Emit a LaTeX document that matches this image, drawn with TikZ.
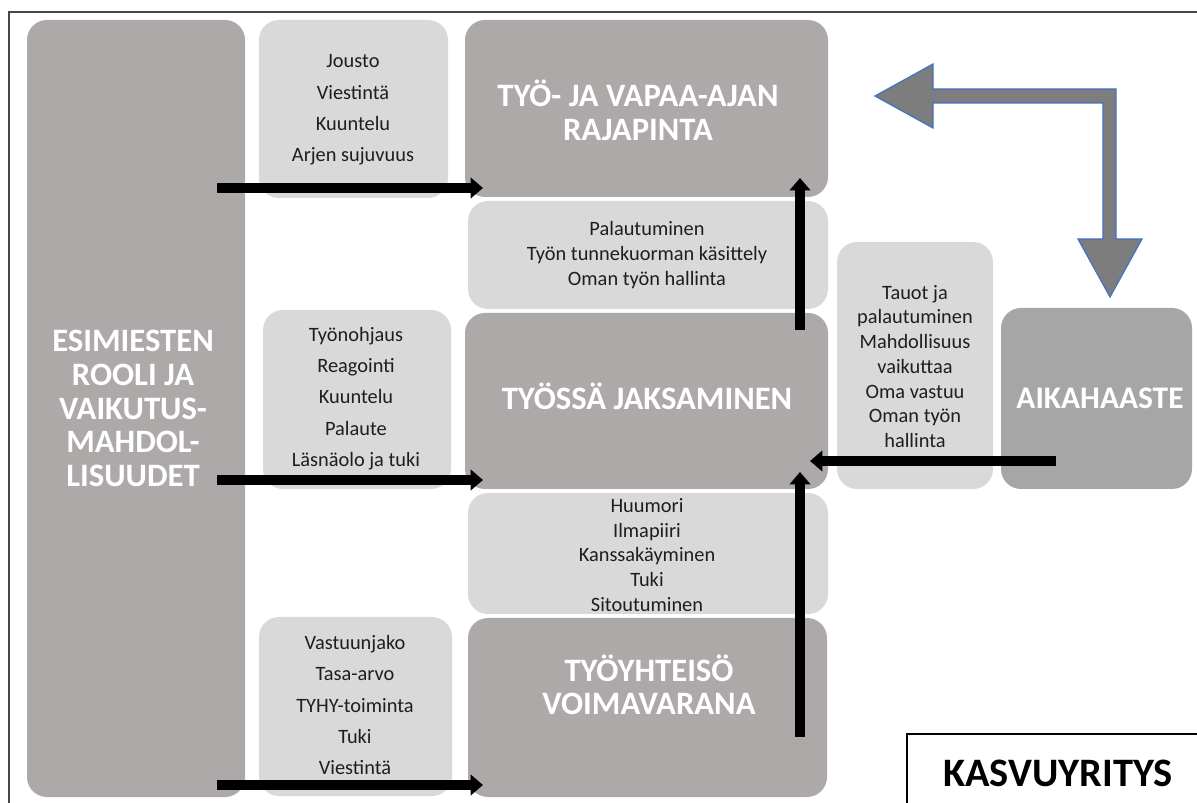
\documentclass[tikz,border=0pt]{standalone}
\usepackage{fontspec}
\setmainfont{Carlito}
\usetikzlibrary{fit,arrows.meta}

\definecolor{darkbox}{RGB}{173,169,168}
\definecolor{lightbox}{RGB}{217,217,217}
\definecolor{aikabox}{RGB}{166,166,166}
\definecolor{txt}{RGB}{30,30,30}
\definecolor{bigarrow}{RGB}{125,125,125}
\definecolor{arrowedge}{RGB}{68,114,196}
\definecolor{framec}{RGB}{70,70,70}

\begin{document}
\begin{tikzpicture}[x=0.02cm,y=-0.02cm,
  dbox/.style={fill=darkbox, rounded corners=0.4cm, inner sep=0pt, draw=none},
  lbox/.style={fill=lightbox, rounded corners=0.4cm, inner sep=0pt, draw=none},
  abox/.style={fill=aikabox, rounded corners=0.4cm, inner sep=0pt, draw=none},
  head/.style={text=white, font=\fontsize{18.6}{19.1}\selectfont\bfseries, align=center, inner sep=0pt},
  list/.style={text=txt, font=\fontsize{11.6}{17.8}\selectfont, align=center, inner sep=0pt},
  tlist/.style={text=txt, font=\fontsize{11.6}{14.1}\selectfont, align=center, inner sep=0pt},
  blk/.style={draw=black, line width=5.7pt, -{Triangle[length=7pt,width=11.5pt]}},
]
\clip (0,0) rectangle (1197,803);
\fill[white] (0,0) rectangle (1197,803);

% outer frame
\draw[framec, line width=1.1pt] (9,810) -- (9,12) -- (1205,12);

% boxes
\node[dbox, fit={(27,20) (245,797)}] (lead) {};
\node[lbox, fit={(259,20) (448,198)}] (lb1) {};
\node[dbox, fit={(465,20) (828,197)}] (raja) {};
\node[lbox, fit={(468,201) (828,309)}] (lb2) {};
\node[dbox, fit={(465,313) (828,489)}] (jaks) {};
\node[lbox, fit={(468,493) (828,614)}] (lb3) {};
\node[dbox, fit={(468,618) (827,797)}] (yht) {};
\node[lbox, fit={(263,310) (451,489)}] (lb4) {};
\node[lbox, fit={(259,617) (452,796)}] (lb5) {};
\node[lbox, fit={(837,242) (993,489)}] (lb6) {};
\node[abox, fit={(1001,308) (1192,489)}] (aika) {};
\node[draw=black, line width=0.85pt, fill=white, inner sep=0pt, fit={(907,734) (1215,820)}] (kasvu) {};

% texts
\node[head] (tlead) at (133,408.5) {ESIMIESTEN\\ROOLI JA\\VAIKUTUS-\\MAHDOL-\\LISUUDET};
\node[head] (traja) at (638,110.5) {TYÖ- JA VAPAA-AJAN\\RAJAPINTA};
\node[head] (tjaks) at (647,396) {TYÖSSÄ JAKSAMINEN};
\node[head] (tyht) at (649,685) {TYÖYHTEISÖ\\VOIMAVARANA};
\node[head, font=\fontsize{17.9}{19}\selectfont\bfseries] (taika) at (1100,398) {AIKAHAASTE};
\node[text=black, font=\fontsize{23}{25}\selectfont\bfseries, inner sep=0pt] (tkasvu) at (1058,773) {KASVUYRITYS};

\node[list] (tlb1) at (353,110) {Jousto\\Viestintä\\Kuuntelu\\Arjen sujuvuus};
\node[tlist] (tlb2) at (647,255) {Palautuminen\\Työn tunnekuorman käsittely\\Oman työn hallinta};
\node[tlist] (tlb3) at (647,555) {Huumori\\Ilmapiiri\\Kanssakäyminen\\Tuki\\Sitoutuminen};
\node[list] (tlb4) at (356,398.5) {Työnohjaus\\Reagointi\\Kuuntelu\\Palaute\\Läsnäolo ja tuki};
\node[list] (tlb5) at (355,705) {Vastuunjako\\Tasa-arvo\\TYHY-toiminta\\Tuki\\Viestintä};
\node[tlist] (tlb6) at (915,366.5) {Tauot ja\\palautuminen\\Mahdollisuus\\vaikuttaa\\Oma vastuu\\Oman työn\\hallinta};

% black arrows
\coordinate (s1) at (217,188); \coordinate (e1) at (483,188);
\coordinate (s2) at (217,480); \coordinate (e2) at (483,480);
\coordinate (s3) at (217,785); \coordinate (e3) at (483,785);
\coordinate (s4) at (800,330); \coordinate (e4) at (800,178);
\coordinate (s5) at (800,737); \coordinate (e5) at (800,472);
\coordinate (s6) at (1056,461); \coordinate (e6) at (810,461);
\draw[blk] (s1) -- (e1);
\draw[blk] (s2) -- (e2);
\draw[blk] (s3) -- (e3);
\draw[blk] (s4) -- (e4);
\draw[blk] (s5) -- (e5);
\draw[blk] (s6) -- (e6);

% big bent double arrow
\draw[arrowedge, line width=0.7pt, fill=bigarrow]
  (875,96) -- (933,64) -- (933,89) -- (1116,89) -- (1116,239) -- (1142,239)
  -- (1110,297) -- (1078,239) -- (1103,239) -- (1103,103) -- (933,103)
  -- (933,128) -- cycle;
\end{tikzpicture}
\end{document}
